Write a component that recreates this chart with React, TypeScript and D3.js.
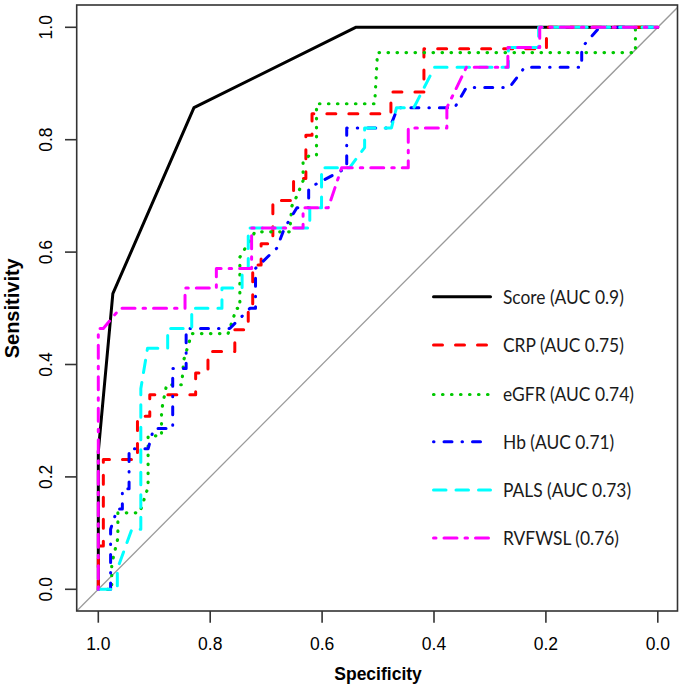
import React from 'react';
import * as d3 from 'd3';

// ---- data ----
const specTicks = [1.0, 0.8, 0.6, 0.4, 0.2, 0.0];
const sensTicks = [0.0, 0.2, 0.4, 0.6, 0.8, 1.0];
const tickLabels = ['0.0', '0.2', '0.4', '0.6', '0.8', '1.0'];
const legendLabels = [
  'Score (AUC 0.9)',
  'CRP (AUC 0.75)',
  'eGFR (AUC 0.74)',
  'Hb (AUC 0.71)',
  'PALS (AUC 0.73)',
  'RVFWSL (0.76)',
];

// [specificity, sensitivity]
const scoreCurve: [number, number][] = [
  [1, 0], [1, 0.245], [0.974, 0.526], [0.829, 0.857], [0.54, 1], [0, 1],
];
const crpCurve: [number, number][] = [
  [1, 0], [1, 0.077], [0.991, 0.077], [0.991, 0.231], [0.93, 0.231], [0.93, 0.308],
  [0.908, 0.308], [0.908, 0.346], [0.826, 0.346], [0.826, 0.385], [0.804, 0.385],
  [0.804, 0.423], [0.756, 0.423], [0.756, 0.462], [0.732, 0.462], [0.732, 0.5],
  [0.724, 0.5], [0.724, 0.577], [0.709, 0.577], [0.709, 0.615], [0.688, 0.615],
  [0.688, 0.692], [0.651, 0.692], [0.651, 0.731], [0.629, 0.731], [0.629, 0.808],
  [0.618, 0.808], [0.618, 0.846], [0.477, 0.846], [0.477, 0.885], [0.418, 0.885],
  [0.418, 0.962], [0.199, 0.962], [0.199, 1], [0, 1],
];
const egfrCurve: [number, number][] = [
  [1, 0], [0.976, 0], [0.976, 0.045], [0.965, 0.091], [0.965, 0.136], [0.926, 0.136],
  [0.911, 0.182], [0.911, 0.273], [0.887, 0.273], [0.887, 0.318], [0.878, 0.364],
  [0.851, 0.364], [0.847, 0.409], [0.833, 0.455], [0.768, 0.455], [0.753, 0.5],
  [0.747, 0.5], [0.747, 0.591], [0.72, 0.636], [0.658, 0.636], [0.654, 0.682],
  [0.645, 0.7], [0.634, 0.727], [0.634, 0.761], [0.622, 0.773], [0.61, 0.773],
  [0.61, 0.864], [0.506, 0.864], [0.501, 0.955], [0.04, 0.955], [0.04, 1], [0, 1],
];
const hbCurve: [number, number][] = [
  [1, 0], [0.978, 0], [0.978, 0.107], [0.966, 0.143], [0.957, 0.143], [0.957, 0.179],
  [0.945, 0.179], [0.945, 0.25], [0.911, 0.25], [0.901, 0.286], [0.867, 0.286],
  [0.867, 0.393], [0.843, 0.393], [0.843, 0.464], [0.765, 0.464], [0.729, 0.5],
  [0.719, 0.5], [0.719, 0.571], [0.681, 0.607], [0.667, 0.643], [0.645, 0.679],
  [0.624, 0.679], [0.624, 0.714], [0.556, 0.75], [0.556, 0.821], [0.479, 0.821],
  [0.465, 0.857], [0.363, 0.857], [0.342, 0.893], [0.265, 0.893], [0.238, 0.929],
  [0.136, 0.929], [0.136, 0.964], [0.104, 1], [0, 1],
];
const palsCurve: [number, number][] = [
  [1, 0], [0.966, 0], [0.966, 0.036], [0.94, 0.107], [0.924, 0.107], [0.924, 0.357],
  [0.912, 0.429], [0.876, 0.429], [0.876, 0.464], [0.833, 0.464], [0.833, 0.5],
  [0.779, 0.5], [0.779, 0.536], [0.743, 0.536], [0.743, 0.571], [0.732, 0.571],
  [0.732, 0.643], [0.622, 0.643], [0.622, 0.679], [0.601, 0.679], [0.601, 0.75],
  [0.551, 0.75], [0.524, 0.786], [0.524, 0.821], [0.476, 0.821], [0.467, 0.857],
  [0.436, 0.857], [0.399, 0.929], [0.267, 0.929], [0.267, 0.964], [0.213, 0.964],
  [0.213, 1], [0, 1],
];
const rvfwslCurve: [number, number][] = [
  [1, 0], [1, 0.464], [0.991, 0.464], [0.961, 0.5], [0.845, 0.5], [0.845, 0.536],
  [0.789, 0.536], [0.789, 0.571], [0.726, 0.571], [0.726, 0.643], [0.634, 0.643],
  [0.634, 0.679], [0.589, 0.679], [0.565, 0.75], [0.446, 0.75], [0.446, 0.821],
  [0.377, 0.821], [0.377, 0.857], [0.342, 0.929], [0.268, 0.929], [0.268, 0.964],
  [0.211, 0.964], [0.211, 1], [0, 1],
];

const curves = [scoreCurve, crpCurve, egfrCurve, hbCurve, palsCurve, rvfwslCurve];

// ---- styles ----
const styles = [
  { color: '#000000', dash: 'none', width: 3, cap: 'round' },
  { color: '#FF0000', dash: '9,13', width: 3, cap: 'round' },
  { color: '#00C800', dash: '0.5,8.5', width: 3.2, cap: 'round' },
  { color: '#0000FF', dash: '0.5,10,8,10', width: 3, cap: 'round' },
  { color: '#00FFFF', dash: '12.5,10', width: 3, cap: 'round' },
  { color: '#FF00FF', dash: '2.5,8,13,8', width: 3, cap: 'round' },
];

const W = 685;
const H = 690;
const box = { left: 76.7, right: 677.5, top: 5, bottom: 611 };

export default function App() {
  const x = d3.scaleLinear().domain([1, 0]).range([98.3, 657.8]);
  const y = d3.scaleLinear().domain([0, 1]).range([589.3, 27.3]);
  const line = d3
    .line<[number, number]>()
    .x((d) => x(d[0]))
    .y((d) => y(d[1]));

  const legendRows = [296.7, 345, 394.5, 441.7, 490, 538];
  const axisFont = '"Liberation Sans", Arial, Helvetica, sans-serif';
  const legendFont = 'Lato, "Open Sans", sans-serif';

  return (
    <svg
      width={W}
      height={H}
      viewBox={`0 0 ${W} ${H}`}
      style={{ position: 'absolute', left: 0, top: 0, background: '#fff' }}
    >
      <rect x={0} y={0} width={W} height={H} fill="#fff" />
      <defs>
        <clipPath id="plotclip">
          <rect x={box.left} y={box.top} width={box.right - box.left} height={box.bottom - box.top} />
        </clipPath>
      </defs>

      {/* diagonal reference */}
      <g clipPath="url(#plotclip)">
        <line
          x1={x(1.1)}
          y1={y(-0.1)}
          x2={x(-0.1)}
          y2={y(1.1)}
          stroke="#9a9a9a"
          strokeWidth={1.3}
        />
      </g>

      {/* curves */}
      <g clipPath="url(#plotclip)">
        {curves.map((c, i) => (
          <path
            key={i}
            d={line(c) || ''}
            fill="none"
            stroke={styles[i].color}
            strokeWidth={styles[i].width}
            strokeDasharray={styles[i].dash}
            strokeLinecap={styles[i].cap as any}
            strokeLinejoin="round"
          />
        ))}
      </g>

      {/* box */}
      <rect
        x={box.left}
        y={box.top}
        width={box.right - box.left}
        height={box.bottom - box.top}
        fill="none"
        stroke="#333"
        strokeWidth={1.6}
      />

      {/* x axis ticks */}
      {specTicks.map((t, i) => (
        <g key={'xt' + i}>
          <line x1={x(t)} x2={x(t)} y1={box.bottom} y2={box.bottom + 11.7} stroke="#333" strokeWidth={1.6} />
          <text
            x={x(t)}
            y={650}
            textAnchor="middle"
            fontFamily={axisFont}
            fontSize={17.5}
            fill="#000"
          >
            {t.toFixed(1)}
          </text>
        </g>
      ))}

      {/* y axis ticks */}
      {sensTicks.map((t, i) => (
        <g key={'yt' + i}>
          <line x1={box.left - 11.7} x2={box.left} y1={y(t)} y2={y(t)} stroke="#333" strokeWidth={1.6} />
          <text
            transform={`translate(51.7,${y(t)}) rotate(-90)`}
            textAnchor="middle"
            fontFamily={axisFont}
            fontSize={17.5}
            fill="#000"
          >
            {tickLabels[i]}
          </text>
        </g>
      ))}

      {/* axis titles */}
      <text
        x={(x(1) + x(0)) / 2}
        y={680}
        textAnchor="middle"
        fontFamily={axisFont}
        fontWeight="bold"
        fontSize={17.5}
        fill="#000"
      >
        Specificity
      </text>
      <text
        transform={`translate(19,${(y(0) + y(1)) / 2}) rotate(-90)`}
        textAnchor="middle"
        fontFamily={axisFont}
        fontWeight="bold"
        fontSize={20}
        fill="#000"
      >
        Sensitivity
      </text>

      {/* legend */}
      {legendLabels.map((lab, i) => (
        <g key={'lg' + i}>
          <line
            x1={433.5}
            x2={490.5}
            y1={legendRows[i]}
            y2={legendRows[i]}
            stroke={styles[i].color}
            strokeWidth={styles[i].width}
            strokeDasharray={styles[i].dash}
            strokeLinecap={styles[i].cap as any}
          />
          <text
            transform={`translate(503,${legendRows[i] + 6.8}) scale(0.94,1)`}
            fontFamily={legendFont}
            fontSize={18.5}
            fill="#1a1a1a"
          >
            {lab}
          </text>
        </g>
      ))}
    </svg>
  );
}
